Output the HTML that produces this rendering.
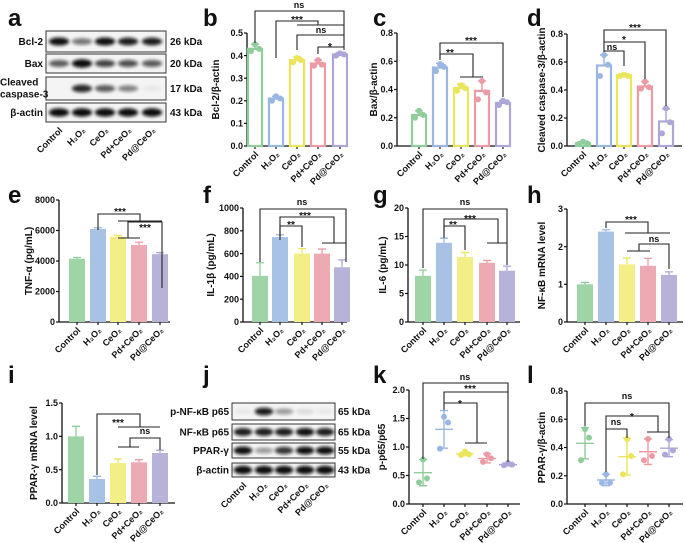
<!DOCTYPE html>
<html><head><meta charset="utf-8"><style>
html,body{margin:0;padding:0;background:#fff;}
svg{display:block;font-family:"Liberation Sans",Arial,sans-serif;font-weight:bold;}
</style></head><body>
<svg id="fig" width="685" height="543" viewBox="0 0 685 543" xmlns="http://www.w3.org/2000/svg">
<defs><filter id="blur" x="-50%" y="-100%" width="200%" height="300%"><feGaussianBlur stdDeviation="1.6"/></filter></defs>
</svg>
<script>
const cats = ['Control','H₂O₂','CeO₂','Pd+CeO₂','Pd@CeO₂'];
const fills = ['#9fd4a6','#a8c2e6','#f3ef86','#eeaab2','#b7b2d8'];
const strokes = ['#8fce9b','#9ab7e3','#ebe55c','#ec9aa6','#aca7d6'];

const bMeans = [0.43,0.21,0.38,0.365,0.405];
const bSd = [0.02,0.01,0.015,0.015,0.008];
const bPts = [[0.45,0.42,0.43],[0.22,0.20,0.21],[0.39,0.37,0.38],[0.38,0.355,0.36],[0.41,0.40,0.405]];
const cMeans = [0.22,0.555,0.41,0.39,0.305];
const cSd = [0.03,0.03,0.03,0.07,0.015];
const cPts = [[0.25,0.20,0.22],[0.58,0.53,0.56],[0.43,0.39,0.41],[0.46,0.33,0.38],[0.32,0.29,0.31]];
const dMeans = [0.02,0.575,0.505,0.425,0.175];
const dSd = [0.01,0.075,0.01,0.035,0.09];
const dPts = [[0.03,0.015,0.02],[0.65,0.50,0.58],[0.51,0.50,0.50],[0.46,0.41,0.42],[0.27,0.09,0.17]];
const eMeans = [4150,6100,5600,5050,4450];
const eErr = [80,80,80,180,100];
const fMeans = [405,745,600,600,480];
const fErr = [115,20,45,40,65];
const gMeans = [8.1,13.9,11.4,10.4,9.0];
const gErr = [1.0,0.8,0.8,0.4,0.8];
const hMeans = [1.0,2.4,1.53,1.49,1.25];
const hErr = [0.05,0.05,0.17,0.2,0.08];
const iMeans = [1.0,0.36,0.6,0.61,0.75];
const iErr = [0.15,0.04,0.06,0.04,0.04];
const kMeans = [0.55,1.31,0.88,0.80,0.69];
const kSd = [0.23,0.33,0.03,0.08,0.02];
const kPts = [[0.78,0.38,0.45],[1.53,0.97,1.43],[0.92,0.86,0.87],[0.87,0.74,0.80],[0.72,0.68,0.69]];
const lMeans = [0.43,0.17,0.335,0.37,0.395];
const lSd = [0.11,0.04,0.13,0.09,0.06];
const lPts = [[0.53,0.31,0.47],[0.21,0.15,0.15],[0.46,0.21,0.34],[0.46,0.31,0.34],[0.46,0.35,0.38]];

const tb = [0,0.1,0.2,0.3,0.4,0.5];
const t08 = [0,0.2,0.4,0.6,0.8];
const te = [0,2000,4000,6000,8000];
const tf = [0,200,400,600,800,1000];
const tg = [0,5,10,15,20];
const th = [0,1,2,3];
const ti = [0,0.5,1.0,1.5];
const tk = [0,0.5,1.0,1.5,2.0];

const blotARows = ['Bcl-2','Bax','Cleaved caspase-3','β-actin'];
const blotAKda = ['26 kDa','20 kDa','17 kDa','43 kDa'];
const blotAInt = [[0.9,0.5,0.9,0.85,0.85],[0.6,1,0.7,0.65,0.6],[0,0.8,0.6,0.45,0.05],[1,1,1,1,1]];
const blotJRows = ['p-NF-κB p65','NF-κB p65','PPAR-γ','β-actin'];
const blotJKda = ['65 kDa','65 kDa','55 kDa','43 kDa'];
const blotJInt = [[0.05,0.85,0.35,0.1,0.05],[0.85,0.85,0.85,0.9,0.85],[0.9,0.35,0.75,0.9,0.9],[1,1,1,1,1]];

const svg = document.getElementById('fig');
const NS = 'http://www.w3.org/2000/svg';
function mk(tag, attrs, parent){
  const e = document.createElementNS(NS, tag);
  for (const k in attrs) e.setAttribute(k, attrs[k]);
  (parent||svg).appendChild(e);
  return e;
}
function txt(s, x, y, size, anchor, parent){
  const t = mk('text', {x:x, y:y, 'font-size':size, 'text-anchor':anchor||'start', fill:'#111'}, parent);
  t.textContent = s;
  return t;
}

function panelLetter(s, x, y){
  const t = txt(s, x, y, 24, 'start');
  
  
}

function xLabels(g, xs, y0){
  cats.forEach((c, i) => {
    const t = txt(c, xs[i]+4, y0+9, 9, 'end', g);
    t.setAttribute('transform', 'rotate(-45 ' + (xs[i]+4) + ' ' + (y0+9) + ')');
    
    
  });
}

function chart(cfg){
  const g = mk('g', {});
  
  
  const sy = v => cfg.y0 - (v / cfg.vmax) * (cfg.y0 - cfg.yTop);
  const ya = mk('line', {x1:cfg.ax, y1:cfg.y0, x2:cfg.ax, y2:cfg.yTop, stroke:'#111', 'stroke-width':1.3}, g);
  
  
  const xa = mk('line', {x1:cfg.ax, y1:cfg.y0, x2:cfg.xEnd, y2:cfg.y0, stroke:'#111', 'stroke-width':1.3}, g);
  
  
  cfg.ticks.forEach(v => {
    const y = sy(v);
    mk('line', {x1:cfg.ax-3, y1:y, x2:cfg.ax, y2:y, stroke:'#111', 'stroke-width':1.2}, g);
    const t = txt(cfg.fmt(v), cfg.ax-4, y+3.2, 9, 'end', g);
    
    
  });
  cfg.xs.forEach(x => mk('line', {x1:x, y1:cfg.y0, x2:x, y2:cfg.y0+3, stroke:'#111', 'stroke-width':1.2}, g));
  const tt = txt(cfg.title, 0, 0, 10, 'middle', g);
  const tyc = (cfg.y0 + cfg.yTop)/2;
  tt.setAttribute('transform', 'translate(' + cfg.tx + ',' + tyc + ') rotate(-90)');
  
  
  xLabels(g, cfg.xs, cfg.y0);

  cfg.means.forEach((m, i) => {
    const x = cfg.xs[i];
    const err = cfg.errs[i];
    if (cfg.type === 'filled'){
      const w = 16;
      const eb = mk('path', {d:'M'+x+','+sy(m)+' V'+sy(m+err)+' M'+(x-4)+','+sy(m+err)+' H'+(x+4), stroke:strokes[i], 'stroke-width':1.3, fill:'none'}, g);
      
      
      const r = mk('rect', {x:x-w/2, y:sy(m), width:w, height:cfg.y0-sy(m), fill:fills[i]}, g);
      
      
    } else if (cfg.type === 'outline'){
      const w = 14;
      const r = mk('rect', {x:x-w/2, y:sy(m), width:w, height:cfg.y0-sy(m), fill:'#fff', stroke:strokes[i], 'stroke-width':2.2}, g);
      
      
      const eb = mk('path', {d:'M'+x+','+sy(m)+' V'+sy(m+err)+' M'+(x-4)+','+sy(m+err)+' H'+(x+4), stroke:strokes[i], 'stroke-width':1.5, fill:'none'}, g);
      
      
    } else {
      const eb = mk('path', {d:'M'+x+','+sy(m-err)+' V'+sy(m+err)+' M'+(x-4)+','+sy(m+err)+' H'+(x+4)+' M'+(x-4)+','+sy(m-err)+' H'+(x+4)+' M'+(x-9)+','+sy(m)+' H'+(x+9), stroke:strokes[i], 'stroke-width':1.4, fill:'none'}, g);
      
      
    }
    if (cfg.pts){
      const offs = [0,-4,4];
      cfg.pts[i].forEach((p, j) => {
        const c = mk('circle', {cx:x+offs[j], cy:sy(p), r:3, fill:strokes[i]}, g);
        
        
      });
    }
  });
  cfg.sig.forEach(s => {
    const p = mk('path', {d:s.d, stroke:'#222', 'stroke-width':1.1, fill:'none'}, g);
    
    
  });
  cfg.sigText.forEach(s => {
    const t = txt(s[0], s[1], s[2], s[0]==='ns'?9:10, 'middle', g);
    
    
  });
}

const f1 = v => v.toFixed(1);
const f0 = v => String(v);

chart({name:'chart-b', ax:247, xEnd:347, y0:146, yTop:33, vmax:0.5, ticks:tb, fmt:f1, xs:[255,276,297,318,340], type:'outline', means:bMeans, errs:bSd, pts:bPts, title:'Bcl-2/β-actin', tx:219,
  sig:[{d:'M255,43 V11 H344 V50'},{d:'M276,58 V21 H318 V25 M297,25 H344'},{d:'M297,50 V35 H344'},{d:'M318,54 V47 H344'}],
  sigText:[['ns',299,8],['***',297,23],['ns',321,33],['*',330,50]]});
chart({name:'chart-c', ax:397, xEnd:510, y0:146, yTop:33, vmax:0.8, ticks:t08, fmt:f1, xs:[419,440,461,482,503], type:'outline', means:cMeans, errs:cSd, pts:cPts, title:'Bax/β-actin', tx:377,
  sig:[{d:'M440,58 V43 H503 V97'},{d:'M440,60 V54 H473 V77 M460,77 H483'}],
  sigText:[['***',471,44],['**',450,56]]});
chart({name:'chart-d', ax:567, xEnd:682, y0:146, yTop:34, vmax:0.8, ticks:t08, fmt:f1, xs:[583,604,624,645,666], type:'outline', means:dMeans, errs:dSd, pts:dPts, title:'Cleaved caspase-3/β-actin', tx:545,
  sig:[{d:'M604,52 V30 H666 V106'},{d:'M604,42 H645 V79'},{d:'M604,51 H624 V66'}],
  sigText:[['***',635,31],['*',624,43],['ns',612,50]]});
chart({name:'chart-e', ax:59, xEnd:170, y0:322, yTop:200, vmax:8000, ticks:te, fmt:f0, xs:[77,98,118,139,160], type:'filled', means:eMeans, errs:eErr, pts:null, title:'TNF-α (pg/mL)', tx:32,
  sig:[{d:'M98,230 V214 H140 V221 M118,221 H162'},{d:'M128,238 V222 H162 V288 M118,238 H140'}],
  sigText:[['***',120,215],['***',145,231]]});
chart({name:'chart-f', ax:243, xEnd:347, y0:322, yTop:208, vmax:1000, ticks:tf, fmt:f0, xs:[260,280,302,322,342], type:'filled', means:fMeans, errs:fErr, pts:null, title:'IL-1β (pg/mL)', tx:214,
  sig:[{d:'M260,262 V209 H346 V262'},{d:'M280,236 V217 H334 V243 M322,243 H346'},{d:'M280,240 V226 H302 V247'}],
  sigText:[['ns',302,205],['***',305,219],['**',291,228]]});
chart({name:'chart-g', ax:408, xEnd:520, y0:322, yTop:208, vmax:20, ticks:tg, fmt:f0, xs:[423,444,465,487,507], type:'filled', means:gMeans, errs:gErr, pts:null, title:'IL-6 (pg/mL)', tx:386,
  sig:[{d:'M423,268 V209 H507 V265'},{d:'M444,234 V219 H498 V243 M487,243 H507'},{d:'M444,238 V226 H465 V250'}],
  sigText:[['ns',465,205],['***',470,222],['**',453,228]]});
chart({name:'chart-h', ax:567, xEnd:683, y0:322, yTop:209, vmax:3, ticks:th, fmt:f0, xs:[585,606,627,648,669], type:'filled', means:hMeans, errs:hErr, pts:null, title:'NF-κB mRNA level', tx:545,
  sig:[{d:'M606,228 V222 H648 V233 M625,233 H670'},{d:'M639,251 V244 H669 V269 M627,251 H650'}],
  sigText:[['***',631,223],['ns',654,242]]});
chart({name:'chart-i', ax:62, xEnd:175, y0:503, yTop:403, vmax:1.5, ticks:ti, fmt:f1, xs:[76,97,118,139,160], type:'filled', means:iMeans, errs:iErr, pts:null, title:'PPAR-γ mRNA level', tx:37,
  sig:[{d:'M97,475 V414 H140 V427 M118,427 H160'},{d:'M130,447 V438 H160 V450 M118,447 H139'}],
  sigText:[['***',118,426],['ns',145,434]]});
chart({name:'chart-k', ax:409, xEnd:520, y0:504, yTop:390, vmax:2.0, ticks:tk, fmt:f1, xs:[423,444,465,487,508], type:'scatter', means:kMeans, errs:kSd, pts:kPts, title:'p-p65/p65', tx:385,
  sig:[{d:'M423,459 V383 H508 V462'},{d:'M444,410 V392 H508'},{d:'M444,403 H477 V443 M465,443 H487'}],
  sigText:[['ns',465,380],['***',470,392],['*',460,407]]});
chart({name:'chart-l', ax:567, xEnd:683, y0:504, yTop:391, vmax:0.8, ticks:t08, fmt:f1, xs:[585,606,627,648,669], type:'scatter', means:lMeans, errs:lSd, pts:lPts, title:'PPAR-γ/β-actin', tx:545,
  sig:[{d:'M585,426 V403 H669 V438'},{d:'M606,472 V416 H658 V432 M647,432 H669'},{d:'M606,429 H627 V438'}],
  sigText:[['ns',627,399],['*',632,420],['ns',616,425]]});

function blot(name, x1, x2, rows, lanes, labels, kda, ints, kx, ly){
  const g = mk('g', {});
  
  
  rows.forEach((r, ri) => {
    const [y1, y2] = r;
    const box = mk('rect', {x:x1, y:y1, width:x2-x1, height:y2-y1, fill:'#f4f4f4', stroke:'#333', 'stroke-width':1}, g);
    
    
    const cy = (y1+y2)/2;
    const bw = (lanes[1]-lanes[0])*0.44;
    ints[ri].forEach((v, li) => {
      if (v <= 0.02) return;
      const e = mk('ellipse', {cx:lanes[li], cy:cy, rx:bw, ry:2.4+v*1.8, fill:'#0a0a0a', opacity:Math.min(1, v*1.1), filter:'url(#blur)'}, g);
      
      
    });
    if (labels[ri] === 'Cleaved caspase-3'){
      txt('Cleaved', 0, cy-3, 10, 'start', g);
      txt('caspase-3', 0, cy+9, 10, 'start', g);
    } else {
      const t = txt(labels[ri], x1-3, cy+3.5, 10, 'end', g);
      
      
    }
    const k = txt(kda[ri], kx, cy+3.5, 10, 'start', g);
    
    
  });
  xLabels(g, lanes, ly);
}
blot('western-blot-a', 46, 166, [[31,52],[54,73],[77,100],[103,122]], [59,82,105,128,152], blotARows, blotAKda, blotAInt, 170, 122);
blot('western-blot-j', 232, 335, [[403,420],[424,440],[443,458],[463,477]], [243,264,284,305,325], blotJRows, blotJKda, blotJInt, 338, 477);

[['a',8,26],['b',203,26],['c',373,26],['d',527,26],['e',8,203],['f',203,203],['g',373,203],['h',527,203],['i',8,383],['j',203,383],['k',373,383],['l',527,383]].forEach(p => panelLetter(p[0], p[1], p[2]));
</script>
</body></html>
